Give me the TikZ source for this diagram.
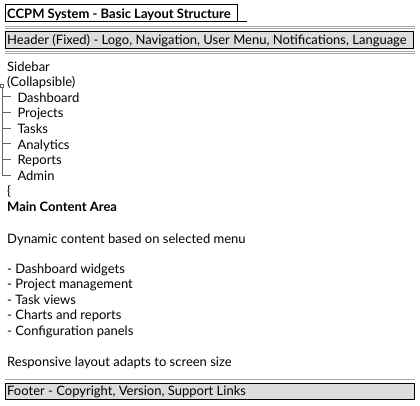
\documentclass[tikz,border=0pt]{standalone}
\usepackage{fontspec}
\setmainfont{Lato}
\usepackage{xcolor}
\definecolor{barfill}{HTML}{DDDDDD}
\definecolor{rulegray}{HTML}{A8A8A8}

\begin{document}
\begin{tikzpicture}[x=1pt, y=-1pt,
    txt/.style={anchor=base west, inner sep=0pt, font=\fontsize{13}{15}\selectfont},
    bartxt/.style={txt, font=\fontsize{13}{15}\selectfont\bfseries},
    bar/.style={draw=black, fill=barfill, line width=0.9pt},
    rule/.style={draw=rulegray, line width=0.9pt}]
          \useasboundingbox (0,0) rectangle (420,405);

          % title tab
          \draw[line width=0.9pt] (5,4) rectangle (237,21);
          \draw[line width=0.9pt] (237,21) -- (247,21);
          \node[bartxt] (title) at (7,18.3) {CCPM System - Basic Layout Structure};

          % header
          \draw[rule] (5,26) -- (415,26);
          \draw[rule] (5,28) -- (415,28);
          \draw[bar] (5,31) rectangle (413,48);
          \node[txt] (header) at (7,44) {Header (Fixed) - Logo, Navigation, User Menu, Notifications, Language};
          \draw[rule] (5,51) -- (415,51);
          \draw[rule] (5,53) -- (415,53);

          % sidebar tree
          \node[txt] (sidebar) at (7,71) {Sidebar};
          \node[txt] (collapse) at (7,86.6) {(Collapsible)};
          \draw[rulegray!60!black, line width=0.6pt] (0.6,84.6) rectangle (3,87);
          \draw[rulegray!60!black, line width=0.7pt] (2,87) -- (2,175.7) -- (11,175.7);
          \foreach \t [count=\ti from 0] in {Dashboard, Projects, Tasks, Analytics, Reports, Admin}{%
            \node[txt] (item\ti) at (17.3,102.2+15.6*\ti) {\t};
          }
          \foreach \ti in {0,...,4}{%
            \draw[rulegray!60!black, line width=0.7pt] (2,96.7+15.6*\ti) -- (11,96.7+15.6*\ti);
          }
          \node[txt] (brace) at (7,195.8) {\{};

          % main content
          \node[bartxt] (main) at (7,211) {Main Content Area};
          \node[txt] (dyn) at (7,243) {Dynamic content based on selected menu};
          \foreach \t [count=\ti from 0] in {Dashboard widgets, Project management, Task views, Charts and reports, Configuration panels}{%
            \node[txt] (list\ti) at (7,273+15.6*\ti) {- \t};
          }
          \node[txt] (resp) at (7,366.7) {Responsive layout adapts to screen size};

          % footer
          \draw[rule] (5,379) -- (415,379);
          \draw[bar] (5,383) rectangle (414,399);
          \node[txt] (footer) at (7,395) {Footer - Copyright, Version, Support Links};
        \end{tikzpicture}
\end{document}
